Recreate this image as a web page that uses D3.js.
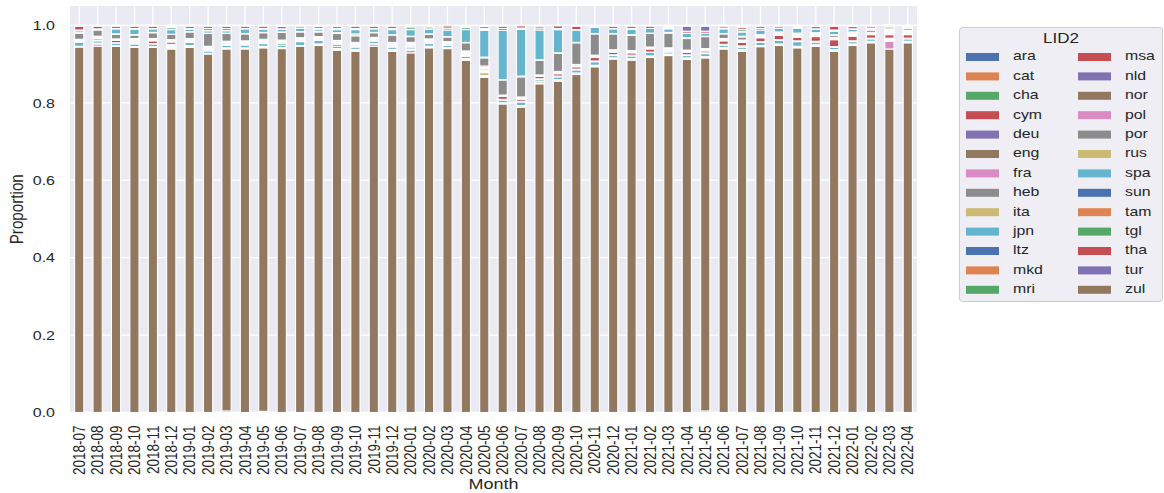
<!DOCTYPE html>
<html><head><meta charset="utf-8">
<script src="https://cdn.jsdelivr.net/npm/d3@7"></script>
<style>
body{margin:0;background:#fff}
svg text{font-family:"Liberation Sans",Arial,Helvetica,sans-serif;fill:#262626}
</style>
</head><body>
<svg id="chart" width="1164" height="493"></svg>
<script>
const months = ["2018-07","2018-08","2018-09","2018-10","2018-11","2018-12",
"2019-01","2019-02","2019-03","2019-04","2019-05","2019-06","2019-07","2019-08","2019-09","2019-10","2019-11","2019-12",
"2020-01","2020-02","2020-03","2020-04","2020-05","2020-06","2020-07","2020-08","2020-09","2020-10","2020-11","2020-12",
"2021-01","2021-02","2021-03","2021-04","2021-05","2021-06","2021-07","2021-08","2021-09","2021-10","2021-11","2021-12",
"2022-01","2022-02","2022-03","2022-04"];
const languages = ["ara","cat","cha","cym","deu","eng","fra","heb","ita","jpn","ltz","mkd","mri",
"msa","nld","nor","pol","por","rus","spa","sun","tam","tgl","tha","tur","zul"];
const yTicks = [0.0,0.2,0.4,0.6,0.8,1.0];

const ara = [0,0,0,0,0,0,0,0,0,0, 0,0,0,0,0,0,0,0,0,0, 0,0,0,0,0,0,0,0,0,0, 0,0,0,0,0,0,0,0,0,0, 0,0,0,0,0,0];
const cat = [0,0,0,0,0,0,0,0,0,0, 0,0,0,0,0,0,0,0,0,0, 0,0,0,0,0,0,0,0,0,0, 0,0,0,0,0,0,0,0,0,0, 0,0,0,0,0,0];
const cha = [0,0,0,0,0,0,0,0,0,0, 0,0,0,0,0,0,0,0,0,0, 0,0,0,0,0,0,0,0,0,0, 0,0,0,0,0,0,0,0,0,0, 0,0,0,0,0,0];
const cym = [0,0,0,0,0,0,0,0,0,0, 0,0,0,0,0,0,0,0,0,0, 0,0,0,0,0,0,0,0,0,0, 0,0,0,0,0,0,0,0,0,0, 0,0,0,0,0,0];
const deu = [0,0,0,0,0,0,0,0,.004,0, .003,0,0,0,0,0,0,0,0,0, 0,0,0,0,0,0,0,0,0,0, 0,0,0,0,.004,0,0,0,0,0, 0,0,0,0,0,0];
const eng = [.944,.946,.946,.943,.943,.939,.943,.926,.935,.939, .939,.940,.946,.948,.936,.933,.946,.933,.929,.942,
             .940,.910,.866,.797,.789,.849,.856,.873,.893,.913, .910,.917,.922,.912,.912,.939,.933,.945,.948,.942,
             .946,.933,.948,.955,.939,.955];
const fra = [0,.006,0,0,0,0,0,0,0,0, 0,0,0,0,0,0,.006,0,.007,0, 0,0,.002,0,0,.001,0,0,0,0, 0,0,0,0,0,0,0,0,0,0, 0,0,0,0,.020,0];
const heb = [.002,.002,.002,.002,.002,.003,.003,.002,.002,.002, .002,.002,.002,.002,.002,.003,.001,.003,.002,.002,
             .002,.002,.002,.002,.002,.001,.002,.002,.002,.002, .002,.002,.002,.002,.002,.002,.003,.002,.002,.002,
             .002,.002,.002,.002,.002,.002];
const ita = [0,0,0,0,0,.002,.002,0,.001,.001, .002,.001,0,.002,.002,.002,0,.002,.001,.002,
             .001,.002,.008,.001,.002,.005,.002,.002,.002,.001, .002,.002,.002,.002,.001,.002,.002,.001,.002,.002,
             .002,.002,.002,.002,.002,.002];
const jpn = [.011,.006,.006,.007,.007,.003,.008,.006,.006,.007, .007,.006,.010,.009,.006,.006,.006,.006,.005,.007,
             .005,.006,.003,.007,.009,.005,.007,.008,.009,.006, .007,.009,.005,.006,.008,.006,.006,.008,.009,.012,
             .006,.006,.006,.006,.002,.006];
const ltz = [0,0,0,0,0,.002,0,0,0,0, 0,0,0,0,0,0,0,0,0,0, 0,0,0,0,0,0,0,0,0,0, 0,0,0,0,0,0,0,0,0,0, 0,0,0,0,0,0];
const mkd = [0,0,0,0,0,0,0,0,0,0, 0,0,0,0,0,0,0,0,0,0, 0,0,0,0,0,0,0,0,0,0, 0,0,0,0,0,0,0,0,0,0, 0,0,0,0,0,0];
const mri = [.001,.002,.001,.002,.001,.002,.002,.002,.002,.002, .002,.005,.002,.002,.005,.002,.002,.002,.002,.002,
             .002,.002,.002,.002,.002,.001,.002,.002,.002,.002, .002,.001,.002,.002,.002,.002,.003,.002,.002,.002,
             .003,.002,.002,.002,.002,.002];
const msa = [0,0,.006,.003,.007,.006,0,.003,.002,.002, .002,.002,.002,.002,.003,.003,.002,.003,.003,.003,
             .002,.003,.004,.008,.005,.006,.006,.006,.009,.006, .006,.008,.003,.006,.005,.009,.009,.010,.011,.009,
             .012,.018,.012,.009,.009,.009];
const nld = [.002,.004,.002,.003,.002,.002,.002,.003,.003,.003, .003,.002,.002,.002,.003,.003,.002,.003,.003,.003,
             .002,.003,.002,.001,.002,.001,.002,.002,.002,.002, .002,.002,.002,.002,.002,.002,.002,.002,.002,.002,
             .002,.002,.002,.002,.002,.002];
const nor = [.002,.003,.001,.003,.002,.002,.003,.002,.002,.002, .002,.002,.002,.002,.002,.002,.002,.002,.002,.002,
             .002,.003,.002,.001,.002,.001,.002,.002,.002,.002, .002,.001,.002,.002,.002,.002,.002,.001,.002,.002,
             .002,.002,.002,.002,.002,.002];
const pol = [.002,.003,.001,.003,.002,.002,.003,.002,.002,.002, .002,.002,.002,.002,.002,.002,.002,.002,.002,.002,
             .002,.003,.004,.001,.002,.002,.002,.002,.002,.003, .002,.002,.002,.002,.002,.002,.002,.001,.002,.002,
             .002,.002,.002,.002,.002,.002];
const por = [.016,.016,.012,.009,.015,.014,.017,.033,.020,.018, .017,.020,.015,.012,.018,.017,.012,.019,.015,.012,
             .012,.021,.021,.039,.052,.038,.047,.056,.055,.041, .039,.035,.038,.030,.031,.012,.008,.003,.002,.003,
             .002,.005,.003,.006,.003,.003];
const rus = [.001,.001,.001,.001,.001,0,.001,.001,.001,.001, .001,.001,.001,.001,.002,.005,.001,.001,.001,.001,
             .001,.001,.002,.001,.002,.001,.001,.001,.001,.001, .002,.001,.002,.002,.001,.001,.002,.001,.001,.002,
             .002,.002,.002,.002,.002,.002];
const spa = [.005,0,.013,.014,.009,.012,.006,.006,.006,.012, .008,.007,.008,.005,.008,.011,.009,.013,.017,.012,
             .017,.033,.069,.127,.121,.077,.060,.032,.016,.012, .014,.012,.009,.011,.008,.012,.011,.012,.009,.012,
             .009,.009,.007,.002,.003,.005];
const sun = [.001,.001,.001,.001,.001,0,.001,.001,.001,.001, .001,.001,.001,.001,.001,.001,.001,.001,.001,.001,
             0,.001,.001,0,.001,0,.001,.001,.001,.001, .001,0,.001,.001,0,.001,.001,0,.001,.001,
             .001,.001,.001,.001,.001,.001];
const tam = [.001,.001,0,.001,0,0,.001,0,0,0, .001,0,0,0,0,0,0,0,0,0, 0,0,.001,0,0,0,0,0,0,0, 0,0,0,0,0,0,.001,0,0,0, 0,0,0,0,0,0];
const tgl = [0,0,0,0,0,.005,0,.005,.005,0, 0,0,.005,.002,.002,.002,0,.002,.006,.005,
             .005,.005,.003,.005,.002,.005,.002,0,.002,0, .001,0,.002,0,0,.001,.005,0,0,.002,
             0,.002,0,0,.005,.002];
const tha = [.010,.007,.006,.006,.006,.002,.006,.006,.006,.006, .006,.006,0,.005,.005,.006,.006,.006,.002,.002,
             .006,.003,.005,.006,.006,.005,.007,.009,0,.006, .006,.006,.003,.005,.005,.005,.005,.004,.005,.003,
             .006,.010,.006,.005,.003,.003];
const tur = [0,0,0,0,0,.001,0,0,0,0, 0,0,0,0,0,0,0,0,0,0, 0,0,0,0,0,0,0,0,0,0, 0,0,0,.013,.013,0,.002,.006,0,0, 0,0,0,0,0,0];
const zul = [.002,.002,.002,.002,.002,.003,.002,.002,.002,.002, .002,.003,.002,.003,.003,.002,.002,.002,.002,.002,
             .001,.002,.003,.002,.001,.002,.001,.002,.002,.002, .002,.002,.003,.002,.002,.002,.003,.002,.002,.002,
             .003,.002,.003,.002,.003,.002];

const seriesByLang = {ara,cat,cha,cym,deu,eng,fra,heb,ita,jpn,ltz,mkd,mri,msa,nld,nor,pol,por,rus,spa,sun,tam,tgl,tha,tur,zul};
const palette = ["#4C72B0","#DD8452","#55A868","#C44E52","#8172B3","#937860","#DA8BC3","#8C8C8C","#CCB974","#64B5CD"];

const rows = months.map((m,i) => {
  const r = {month: m};
  languages.forEach(l => r[l] = seriesByLang[l][i]);
  return r;
});
const color = d3.scaleOrdinal().domain(languages).range(languages.map((l,i)=>palette[i%10]));
const stacked = d3.stack().keys(languages)(rows);

const SX = 1.2;  // text in the reference is rendered slightly wide
const svg = d3.select("#chart");
const L = 70, R = 917, T = 6, B = 412.5;
const x = d3.scaleBand().domain(months).range([L,R]).paddingInner(0.5).paddingOuter(0.25);
const y = d3.scaleLinear().domain([0,1.05]).range([B,T]);

svg.append("rect").attr("x",L).attr("y",T).attr("width",R-L).attr("height",B-T).attr("fill","#EAEAF2");
svg.append("g").selectAll("line").data(yTicks).join("line")
  .attr("x1",L).attr("x2",R).attr("y1",d=>y(d)).attr("y2",d=>y(d))
  .attr("stroke","#fff").attr("stroke-width",1.3);
svg.append("g").selectAll("line").data(months).join("line")
  .attr("x1",d=>x(d)+x.bandwidth()/2).attr("x2",d=>x(d)+x.bandwidth()/2).attr("y1",T).attr("y2",B)
  .attr("stroke","#fff").attr("stroke-width",1.3);

const gBars = svg.append("g");
stacked.forEach(s => {
  gBars.append("g").attr("fill", color(s.key))
    .selectAll("rect").data(s.filter(d => d[1]-d[0] > 0)).join("rect")
    .attr("x", d => x(d.data.month))
    .attr("width", x.bandwidth())
    .attr("y", d => y(d[1]))
    .attr("height", d => y(d[0]) - y(d[1]))
    .attr("stroke","#fff").attr("stroke-width",1.1);
});

const yAxis = svg.append("g").attr("transform",`translate(${L},0)`)
  .call(d3.axisLeft(y).tickValues(yTicks).tickFormat(d3.format(".1f")).tickSize(0).tickPadding(15));
yAxis.select(".domain").remove();
yAxis.selectAll("text").attr("x",0).attr("transform",`translate(-15,0) scale(${SX},1)`)
  .attr("font-size",13.3).style("font-family",'"Liberation Sans",Arial,sans-serif').attr("fill","#262626");

const xAxis = svg.append("g").attr("transform",`translate(0,${B})`)
  .call(d3.axisBottom(x).tickSize(0));
xAxis.select(".domain").remove();
xAxis.selectAll("text")
  .attr("x",0).attr("y",0).attr("dy","0.35em")
  .attr("text-anchor","end")
  .attr("transform",`translate(0,13) scale(${SX},1) rotate(-90)`)
  .attr("font-size",13.5).style("font-family",'"Liberation Sans",Arial,sans-serif').attr("fill","#262626");

svg.append("text").attr("transform",`translate(${(L+R)/2},485) scale(${SX},1)`).attr("dominant-baseline","middle")
  .attr("text-anchor","middle").attr("font-size",15).text("Month");
svg.append("text").attr("transform",`translate(18,${(T+B)/2}) scale(${SX},1) rotate(-90)`).attr("dominant-baseline","middle")
  .attr("text-anchor","middle").attr("font-size",15.2).text("Proportion");

const lg = svg.append("g");
lg.append("rect").attr("x",959.5).attr("y",27.5).attr("width",203).attr("height",274).attr("rx",3)
  .attr("fill","#EEEEF4").attr("stroke","#cccccc").attr("stroke-width",1);
lg.append("text").attr("transform",`translate(1061,39) scale(${SX},1)`).attr("dominant-baseline","middle").attr("text-anchor","middle")
  .attr("font-size",14.2).text("LID2");
languages.forEach((l,i) => {
  const col = i < 13 ? 0 : 1, row = i % 13;
  const cy = 57 + row*19.4;
  const px = col ? 1078 : 966, tx = col ? 1125 : 1013;
  lg.append("rect").attr("x",px).attr("y",cy-4).attr("width",33).attr("height",8).attr("fill",color(l));
  lg.append("text").attr("transform",`translate(${tx},${cy}) scale(${SX},1)`).attr("dominant-baseline","middle")
    .attr("font-size",13.2).text(l);
});
</script>
</body></html>
